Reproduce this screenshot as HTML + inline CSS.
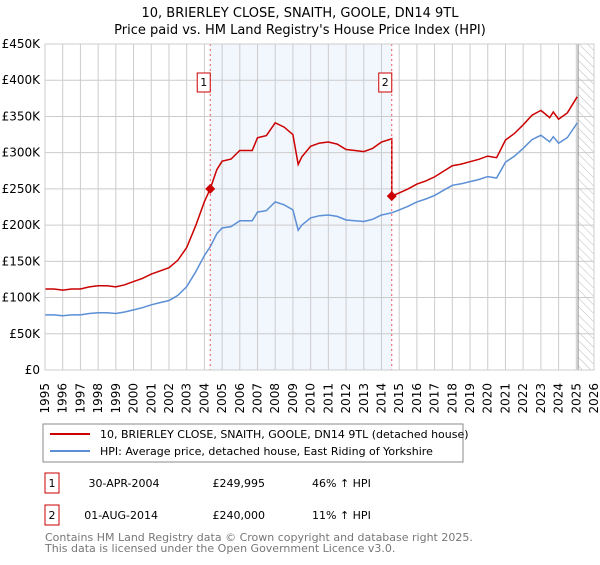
<!DOCTYPE html>
<html><head><meta charset="utf-8"><style>
body{margin:0;background:#fff;font-family:"Liberation Sans","DejaVu Sans",sans-serif;}
svg text{font-family:"DejaVu Sans","Liberation Sans",sans-serif;}
</style></head><body>
<svg id="c" width="600" height="560" xmlns="http://www.w3.org/2000/svg">
<defs><pattern id="hatch" width="6" height="6" patternUnits="userSpaceOnUse" patternTransform="rotate(-45)"><line x1="0" y1="0" x2="0" y2="6" stroke="#bbb" stroke-width="1"/></pattern></defs>
<text x="300" y="17" text-anchor="middle" font-size="13">10, BRIERLEY CLOSE, SNAITH, GOOLE, DN14 9TL</text>
<text x="300" y="34" text-anchor="middle" font-size="13">Price paid vs. HM Land Registry's House Price Index (HPI)</text>
<g id="plot"></g>
<rect x="43" y="424" width="420" height="38" fill="#fff" stroke="#888"/>
<line x1="50" y1="434" x2="90" y2="434" stroke="#cc0000" stroke-width="2"/>
<text x="100" y="438" font-size="11">10, BRIERLEY CLOSE, SNAITH, GOOLE, DN14 9TL (detached house)</text>
<line x1="50" y1="451" x2="90" y2="451" stroke="#5b8fd6" stroke-width="2"/>
<text x="100" y="455" font-size="11">HPI: Average price, detached house, East Riding of Yorkshire</text>
<g font-size="11">
<rect x="45" y="473" width="14" height="20" fill="#fff" stroke="#cc0000"/>
<text x="52" y="487" text-anchor="middle">1</text>
<text x="124" y="487" text-anchor="middle">30-APR-2004</text>
<text x="265" y="487" text-anchor="end">£249,995</text>
<text x="312" y="487">46% ↑ HPI</text>
<rect x="45" y="505" width="14" height="20" fill="#fff" stroke="#cc0000"/>
<text x="52" y="519" text-anchor="middle">2</text>
<text x="158" y="519" text-anchor="end">01-AUG-2014</text>
<text x="265" y="519" text-anchor="end">£240,000</text>
<text x="312" y="519">11% ↑ HPI</text>
</g>
<text x="45" y="541" font-size="11" fill="#777">Contains HM Land Registry data © Crown copyright and database right 2025.</text>
<text x="45" y="552" font-size="11" fill="#777">This data is licensed under the Open Government Licence v3.0.</text>
</svg>
<script>
const hpiYears=[1995,1995.5,1996,1996.5,1997,1997.5,1998,1998.5,1999,1999.5,2000,2000.5,2001,2001.5,2002,2002.5,2003,2003.5,2004,2004.33,2004.7,2005,2005.5,2006,2006.7,2007,2007.5,2008,2008.5,2009,2009.3,2009.5,2010,2010.5,2011,2011.5,2012,2012.5,2013,2013.5,2014,2014.58,2015,2015.5,2016,2016.5,2017,2017.5,2018,2018.5,2019,2019.5,2020,2020.5,2021,2021.5,2022,2022.5,2023,2023.5,2023.7,2024,2024.5,2025.05];
const hpiValues=[76,76,75,76,76,78,79,79,78,80,83,86,90,93,96,103,115,135,158,170,188,196,198,206,206,218,220,232,228,221,193,200,210,213,214,212,207,206,205,208,214,217,221,226,232,236,241,248,255,257,260,263,267,265,287,295,306,318,324,315,322,313,321,341];
const sales=[{year:2004.33,price:249.995},{year:2014.58,price:240}];
const yTicks=[0,50,100,150,200,250,300,350,400,450];
const yTickLabels=["£0","£50K","£100K","£150K","£200K","£250K","£300K","£350K","£400K","£450K"];
const xTicks=[1995,1996,1997,1998,1999,2000,2001,2002,2003,2004,2005,2006,2007,2008,2009,2010,2011,2012,2013,2014,2015,2016,2017,2018,2019,2020,2021,2022,2023,2024,2025,2026];
const X0=45,X1=594,Y0=370,Y1=44;
const xs=y=>X0+(y-1995)/(2026-1995)*(X1-X0);
const ys=v=>Y0-v/450*(Y0-Y1);
const NS="http://www.w3.org/2000/svg";
const g=document.getElementById('plot');
function mk(t,a,p){const e=document.createElementNS(NS,t);for(const k in a)e.setAttribute(k,a[k]);(p||g).appendChild(e);return e;}
const bg=mk('rect',{x:xs(sales[0].year),y:Y1,width:xs(sales[1].year)-xs(sales[0].year),height:Y0-Y1,fill:'#f2f6fd'});


const ht=mk('rect',{x:xs(2025.1),y:Y1,width:X1-xs(2025.1),height:Y0-Y1,fill:'url(#hatch)'});


yTicks.forEach((v,i)=>{
 const l=mk('line',{x1:X0,x2:X1,y1:ys(v),y2:ys(v),stroke:'#ccc'});
 
 
 const t=mk('text',{x:X0-5,y:ys(v)+4,'text-anchor':'end','font-size':12});
 
 
 t.textContent=yTickLabels[i];
});
xTicks.forEach(yr=>{
 const l=mk('line',{x1:xs(yr),x2:xs(yr),y1:Y1,y2:Y0,stroke:'#ccc'});
 
 
 const t=mk('text',{x:0,y:0,'text-anchor':'end','font-size':12,transform:`translate(${xs(yr)+4},383) rotate(-90)`});
 
 
 t.textContent=yr;
});
const vl=mk('line',{x1:xs(2025.1),x2:xs(2025.1),y1:Y1,y2:Y0,stroke:'#888'});


function hpiAt(y){for(let i=1;i<hpiYears.length;i++){if(y<=hpiYears[i]){const f=(y-hpiYears[i-1])/(hpiYears[i]-hpiYears[i-1]);return hpiValues[i-1]+f*(hpiValues[i]-hpiValues[i-1]);}}return hpiValues[hpiValues.length-1];}
const r1=sales[0].price/hpiAt(sales[0].year), r2=sales[1].price/hpiAt(sales[1].year);
let hp='',rp='';
hpiYears.forEach((y,i)=>{hp+=(i?'L':'M')+xs(y).toFixed(1)+','+ys(hpiValues[i]).toFixed(1);});
let first=true;
hpiYears.forEach((y,i)=>{
 if(y<sales[1].year){rp+=(first?'M':'L')+xs(y).toFixed(1)+','+ys(hpiValues[i]*r1).toFixed(1);first=false;}
});
rp+='L'+xs(sales[1].year).toFixed(1)+','+ys(sales[1].price*r1/r2).toFixed(1);
rp+='L'+xs(sales[1].year).toFixed(1)+','+ys(sales[1].price).toFixed(1);
hpiYears.forEach((y,i)=>{if(y>sales[1].year)rp+='L'+xs(y).toFixed(1)+','+ys(hpiValues[i]*r2).toFixed(1);});
const hl=mk('path',{d:hp,fill:'none',stroke:'#5b8fd6','stroke-width':1.5});


const rl=mk('path',{d:rp,fill:'none',stroke:'#cc0000','stroke-width':1.5});


sales.forEach((s,i)=>{
 const x=xs(s.year);
 const d=mk('line',{x1:x,x2:x,y1:Y1,y2:Y0,stroke:'#e55','stroke-dasharray':'2,3'});
 
 
 const p=mk('path',{d:`M${x},${ys(s.price)-5}L${x+5},${ys(s.price)}L${x},${ys(s.price)+5}L${x-5},${ys(s.price)}Z`,fill:'#cc0000'});
 
 
 const b=mk('rect',{x:x-12-1,y:73,width:13,height:19,fill:'#fff',stroke:'#cc0000'});
 
 
 const t=mk('text',{x:x-6.5,y:86,'text-anchor':'middle','font-size':11});
 
 
 t.textContent=i+1;
});
const ax=mk('rect',{x:X0,y:Y1,width:X1-X0,height:Y0-Y1,fill:'none',stroke:'#ccc'});


</script>
</body></html>
